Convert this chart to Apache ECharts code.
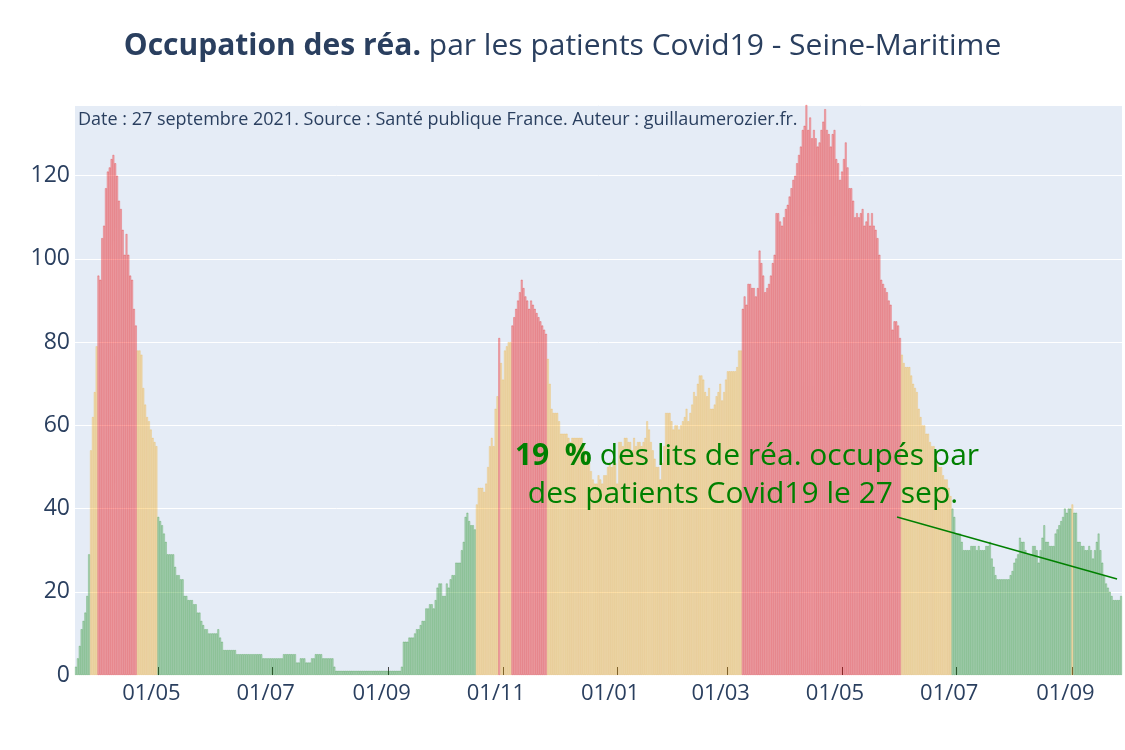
<!DOCTYPE html>
<html>
<head>
<meta charset="utf-8">
<script src="https://cdn.jsdelivr.net/npm/echarts@6/dist/echarts.min.js"></script>
<style>html,body{margin:0;padding:0;background:#fff}#c{width:1125px;height:750px}</style>
</head>
<body>
<div id="c"></div>
<script>
// Daily ICU occupation (patients Covid19), Seine-Maritime, from 2020-03-18
const startDate = '2020-03-18';

const reaSpring2020 = [
  2, 4, 7, 11, 13, 15, 19, 29,
  54, 62, 68, 79,
  96, 95, 105, 108, 117, 121, 122, 124, 125, 123, 120, 114, 112, 107, 101, 106, 101, 96, 95, 88, 84,
  78, 78, 77, 69, 65, 62, 61, 59, 57, 56, 55
];
const reaSummer2020 = [
  38, 37, 36, 34, 32, 29, 29, 29, 29,
  26, 24, 24, 23, 23,
  19, 19, 18, 18, 18,
  17, 17, 15, 15, 13, 12, 11, 11,
  10, 10, 10, 10, 10, 11, 9, 8,
  6, 6, 6, 6, 6, 6, 6,
  5, 5, 5, 5, 5, 5, 5, 5, 5, 5, 5, 5, 5, 5,
  4, 4, 4, 4, 4, 4, 4, 4, 4, 4, 4,
  5, 5, 5, 5, 5, 5, 5,
  3, 3, 4, 4, 4, 3, 3, 3, 4, 4,
  5, 5, 5, 5,
  4, 4, 4, 4, 4, 4,
  2,
  1, 1, 1, 1, 1, 1, 1, 1, 1, 1, 1, 1, 1, 1, 1, 1, 1, 1, 1, 1, 1, 1, 1, 1, 1, 1, 1, 1, 1, 1, 1, 1, 1, 1, 1,
  2
];
const reaAutumn2020 = [
  8, 8, 8, 9, 9, 9, 10, 11, 11, 12,
  13, 13, 16, 16, 17, 17, 16, 18, 21, 22,
  22, 19, 19, 22, 21, 23, 24, 24, 27, 27,
  27, 30, 32, 38, 39, 37, 36, 36, 35, 41,
  45, 45, 45, 44, 46, 50, 55, 57, 55, 64,
  67, 81, 75, 71, 78, 79, 80, 80, 84, 86,
  88, 90, 92, 95, 93, 91, 90, 88, 90, 89,
  88, 87, 86, 85, 84, 83, 82, 76, 70, 64,
  63, 63, 63, 61, 58, 58, 58, 58, 57, 56,
  57, 57, 57, 57, 57, 57, 55, 53, 52, 51,
  49, 47, 46, 46, 48, 47, 46, 48, 48, 50,
  51, 50, 52, 51, 46
];
const reaWinter2021 = [
  56, 56, 55, 57, 57, 56, 56, 54, 57, 55,
  56, 56, 55, 56, 57, 61, 59, 56, 54, 52,
  50, 50, 47, 51, 55, 63, 63, 63, 61, 59,
  60, 60, 59, 60, 61, 62, 64, 61, 63, 65,
  68, 67, 70, 72, 72, 71, 68, 67, 69, 64,
  64, 65, 67, 68, 70, 66, 68, 71, 73, 73,
  73, 73, 73, 74, 78, 78
];
const reaSpring2021 = [
  88, 91, 89, 94, 94, 93, 93, 91, 93, 102,
  99, 96, 92, 93, 94, 96, 99, 101, 111, 111,
  109, 108, 110, 112, 113, 115, 117, 119, 120, 123,
  125, 127, 131, 132, 137, 131, 134, 129, 131, 129,
  127, 128, 131, 133, 136, 131, 130, 127, 130, 131,
  124, 123, 119, 121, 124, 128, 122, 117, 117, 114,
  110, 111, 110, 111, 112, 108, 109, 111, 108, 111,
  108, 107, 105, 101, 95, 94, 93, 92, 90, 89,
  83, 85, 85, 84, 81, 77, 75, 74, 74, 74,
  72, 70, 69, 68
];
const reaSummer2021 = [
  64, 62, 60, 60, 58, 58, 56, 55, 55, 53,
  51, 50, 50, 48, 47, 47, 45, 43, 40, 38,
  34, 34, 34, 32, 30, 30, 30, 30, 31, 31,
  31, 30, 31, 30, 30, 30, 31, 31, 32, 28,
  26, 24, 23, 23, 23, 23, 23, 23, 23, 24,
  25, 27, 28, 29, 33, 32, 32, 30, 29, 29,
  29, 31, 31, 30, 27, 30, 33, 36, 32, 32,
  31, 31, 31, 34, 35, 36, 37, 38, 40, 39,
  40, 40, 41, 39, 39, 32, 32, 31, 31, 30,
  30, 31, 30, 28, 30, 32, 34, 30, 27, 24,
  22, 21, 20, 19, 18, 18, 18, 18, 19
];
const tickMonths = [1, 3, 5, 7, 9, 11];
const greenMax = 40;   // <= 40 : vert
const orangeMax = 80;  // 41..80 : orange, > 80 : rouge

const values = [].concat(reaSpring2020, reaSummer2020, reaAutumn2020, reaWinter2021, reaSpring2021, reaSummer2021);
const dates = [];
const t0 = new Date(startDate + 'T00:00:00Z').getTime();
for (let i = 0; i < values.length; i++) {
  dates.push(new Date(t0 + i * 86400000).toISOString().slice(0, 10));
}

const fills = { green: 'rgba(0,128,0,0.22)', orange: 'rgba(255,165,0,0.25)', red: 'rgba(255,0,0,0.25)' };
const edges = { green: 'rgba(0,128,0,0.45)', orange: 'rgba(240,160,0,0.40)', red: 'rgba(230,0,0,0.50)' };
function level(v) { return v <= greenMax ? 'green' : (v <= orangeMax ? 'orange' : 'red'); }

const isTick = (idx, d) => {
  const s = typeof d === 'string' ? d : dates[idx];
  return s.slice(8, 10) === '01' && tickMonths.indexOf(+s.slice(5, 7)) >= 0;
};

const textColor = '#2a3f5f';
const chart = echarts.init(document.getElementById('c'), null, { renderer: 'canvas' });
chart.setOption({
  animation: false,
  backgroundColor: '#ffffff',
  title: {
    text: '{b|Occupation des réa.} par les patients Covid19 - Seine-Maritime',
    left: 'center',
    top: 26,
    textStyle: {
      fontFamily: 'Open Sans', fontSize: 30, fontWeight: 'normal', color: textColor,
      rich: { b: { fontFamily: 'Open Sans', fontSize: 30, fontWeight: 'bold', color: textColor } }
    }
  },
  grid: { left: 75, right: 3, top: 105, bottom: 75, show: true, backgroundColor: '#E5ECF6', borderWidth: 0 },
  xAxis: {
    type: 'category',
    data: dates,
    boundaryGap: true,
    axisLine: { show: false },
    axisTick: { show: true, inside: true, length: 8, alignWithLabel: true, interval: isTick, lineStyle: { color: '#444', width: 1 } },
    axisLabel: {
      interval: isTick,
      formatter: v => v.slice(8, 10) + '/' + v.slice(5, 7),
      fontFamily: 'Open Sans', fontSize: 22, color: textColor, margin: 8,
      padding: [0, 14, 0, 0]
    },
    splitLine: { show: false }
  },
  yAxis: {
    type: 'value',
    min: 0, max: 137, interval: 20,
    axisLine: { show: false }, axisTick: { show: false },
    axisLabel: { fontFamily: 'Open Sans', fontSize: 23, color: textColor, margin: 5, showMaxLabel: false },
    splitLine: { lineStyle: { color: '#ffffff', width: 1 } }
  },
  series: [{
    type: 'bar',
    barCategoryGap: '0%',
    data: values.map(v => ({ value: v, itemStyle: { color: fills[level(v)], borderColor: edges[level(v)], borderWidth: 0.5 } })),
    emphasis: { disabled: true }
  }]
});

const last = values.length - 1;
const p = chart.convertToPixel({ xAxisIndex: 0, yAxisIndex: 0 }, [last, values[last]]);
chart.setOption({
  graphic: [
    {
      type: 'text', left: 78, top: 111,
      style: { text: 'Date : 27 septembre 2021. Source : Santé publique France. Auteur : guillaumerozier.fr.', font: '18px "Open Sans"', fill: textColor }
    },
    {
      type: 'line',
      shape: { x1: 897, y1: 517, x2: p[0] - 4, y2: p[1] - 17 },
      style: { stroke: 'green', lineWidth: 1.5 },
      z: 10
    },
    {
      type: 'text', x: 747, y: 456, z: 11,
      style: {
        text: '{b|19  %} des lits de réa. occupés par',
        font: '30px "Open Sans"', fill: 'green', align: 'center', verticalAlign: 'middle',
        rich: { b: { fontFamily: 'Open Sans', fontSize: 30, fontWeight: 'bold', fill: 'green' } }
      }
    },
    {
      type: 'text', x: 743, y: 494, z: 11,
      style: {
        text: 'des patients Covid19 le 27 sep.',
        font: '30px "Open Sans"', fill: 'green', align: 'center', verticalAlign: 'middle'
      }
    }
  ]
});
</script>
</body>
</html>
